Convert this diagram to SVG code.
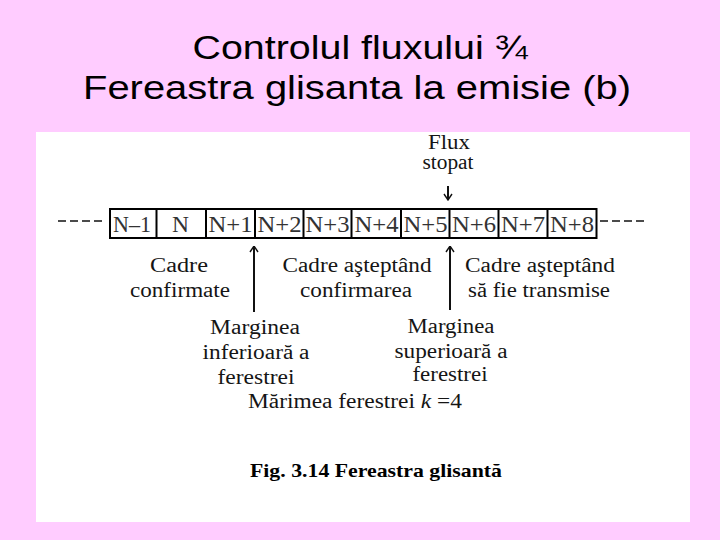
<svg xmlns="http://www.w3.org/2000/svg" width="720" height="540" viewBox="0 0 720 540">
  <defs>
    <marker id="head" viewBox="0 0 10 10" refX="9.5" refY="5" markerWidth="10" markerHeight="10" markerUnits="userSpaceOnUse" orient="auto">
      <polyline points="3.5,1 9.5,5 3.5,9" fill="none" stroke="#111" stroke-width="1.4"/>
    </marker>
    <style>
      .title { font-family: "Liberation Sans", Arial, sans-serif; font-size: 33px; fill: #000; text-anchor: middle; }
      .t { font-family: "Liberation Serif", "Times New Roman", serif; font-size: 20px; fill: #151515; text-anchor: middle; }
      .cell { font-family: "Liberation Serif", "Times New Roman", serif; font-size: 24px; fill: #333; text-anchor: middle; }
      .box { fill: #fff; stroke: #000; stroke-width: 2; }
      .dash { stroke: #111; stroke-width: 1.6; stroke-dasharray: 8 4; fill: none; }
      .arr { stroke: #111; stroke-width: 2; fill: none; }
      .cap { font-family: "Liberation Serif", "Times New Roman", serif; font-size: 19px; font-weight: bold; fill: #000; text-anchor: middle; }
    </style>
  </defs>

  <rect x="0" y="0" width="720" height="540" fill="#FFCCFF"/>
  <rect x="36" y="132" width="654" height="390" fill="#FFFFFF"/>

  <g id="title">
    <text class="title" x="360" y="59" textLength="335" lengthAdjust="spacingAndGlyphs">Controlul fluxului ¾</text>
    <text class="title" x="357" y="99" textLength="548" lengthAdjust="spacingAndGlyphs">Fereastra glisanta la emisie (b)</text>
  </g>

  <g id="frames">
    <rect class="box" x="110" y="209" width="486.5" height="29"/>
    <g stroke="#000" stroke-width="2">
      <line x1="156.5" y1="209" x2="156.5" y2="238"/>
      <line x1="206" y1="209" x2="206" y2="238"/>
      <line x1="255" y1="209" x2="255" y2="238"/>
      <line x1="303.5" y1="209" x2="303.5" y2="238"/>
      <line x1="351.5" y1="209" x2="351.5" y2="238"/>
      <line x1="401" y1="209" x2="401" y2="238"/>
      <line x1="449.5" y1="209" x2="449.5" y2="238"/>
      <line x1="498.5" y1="209" x2="498.5" y2="238"/>
      <line x1="547.5" y1="209" x2="547.5" y2="238"/>
    </g>
    <text class="cell" x="132" y="232" textLength="38" lengthAdjust="spacingAndGlyphs">N–1</text>
    <text class="cell" x="180.5" y="232" textLength="17" lengthAdjust="spacingAndGlyphs">N</text>
    <text class="cell" x="230.5" y="232" textLength="44" lengthAdjust="spacingAndGlyphs">N+1</text>
    <text class="cell" x="279.5" y="232" textLength="44" lengthAdjust="spacingAndGlyphs">N+2</text>
    <text class="cell" x="327.5" y="232" textLength="44" lengthAdjust="spacingAndGlyphs">N+3</text>
    <text class="cell" x="376.5" y="232" textLength="44" lengthAdjust="spacingAndGlyphs">N+4</text>
    <text class="cell" x="425.5" y="232" textLength="44" lengthAdjust="spacingAndGlyphs">N+5</text>
    <text class="cell" x="474" y="232" textLength="44" lengthAdjust="spacingAndGlyphs">N+6</text>
    <text class="cell" x="523" y="232" textLength="44" lengthAdjust="spacingAndGlyphs">N+7</text>
    <text class="cell" x="572" y="232" textLength="44" lengthAdjust="spacingAndGlyphs">N+8</text>
  </g>

  <g id="flux-stopat">
    <text class="t" x="449" y="149" textLength="42" lengthAdjust="spacingAndGlyphs">Flux</text>
    <text class="t" x="448" y="169" font-size="17" textLength="51" lengthAdjust="spacingAndGlyphs">stopat</text>
  </g>

  <g id="cadre-confirmate">
    <text class="t" x="179" y="272" textLength="58" lengthAdjust="spacingAndGlyphs">Cadre</text>
    <text class="t" x="180" y="297" textLength="100" lengthAdjust="spacingAndGlyphs">confirmate</text>
  </g>

  <g id="cadre-asteptand-confirmarea">
    <text class="t" x="357" y="272" textLength="149" lengthAdjust="spacingAndGlyphs">Cadre aşteptând</text>
    <text class="t" x="356" y="297" textLength="112" lengthAdjust="spacingAndGlyphs">confirmarea</text>
  </g>

  <g id="cadre-asteptand-transmise">
    <text class="t" x="540" y="272" textLength="150" lengthAdjust="spacingAndGlyphs">Cadre aşteptând</text>
    <text class="t" x="539" y="297" textLength="142" lengthAdjust="spacingAndGlyphs">să fie transmise</text>
  </g>

  <g id="marginea-inferioara">
    <text class="t" x="255" y="334" textLength="90" lengthAdjust="spacingAndGlyphs">Marginea</text>
    <text class="t" x="256" y="359" textLength="107" lengthAdjust="spacingAndGlyphs">inferioară a</text>
    <text class="t" x="256" y="384" textLength="77" lengthAdjust="spacingAndGlyphs">ferestrei</text>
  </g>

  <g id="marginea-superioara">
    <text class="t" x="451" y="333" textLength="87" lengthAdjust="spacingAndGlyphs">Marginea</text>
    <text class="t" x="451" y="358" textLength="113" lengthAdjust="spacingAndGlyphs">superioară a</text>
    <text class="t" x="450" y="381" textLength="75" lengthAdjust="spacingAndGlyphs">ferestrei</text>
  </g>

  <g id="marimea">
    <text class="t" x="355" y="408" textLength="214" lengthAdjust="spacingAndGlyphs">Mărimea ferestrei <tspan font-style="italic">k</tspan> =4</text>
  </g>

  <g id="caption">
    <text class="cap" x="376" y="477" textLength="252" lengthAdjust="spacingAndGlyphs">Fig. 3.14 Fereastra glisantă</text>
  </g>

  <g id="connectors">
    <line class="dash" x1="58" y1="221" x2="102" y2="221"/>
    <line class="dash" x1="600" y1="221" x2="644" y2="221"/>
    <line class="arr" x1="448" y1="186" x2="448" y2="200" stroke-width="1.5" marker-end="url(#head)"/>
    <line class="arr" x1="254" y1="312" x2="254" y2="246" stroke="#444" marker-end="url(#head)"/>
    <line class="arr" x1="450" y1="310" x2="450" y2="246" marker-end="url(#head)"/>
  </g>
</svg>
